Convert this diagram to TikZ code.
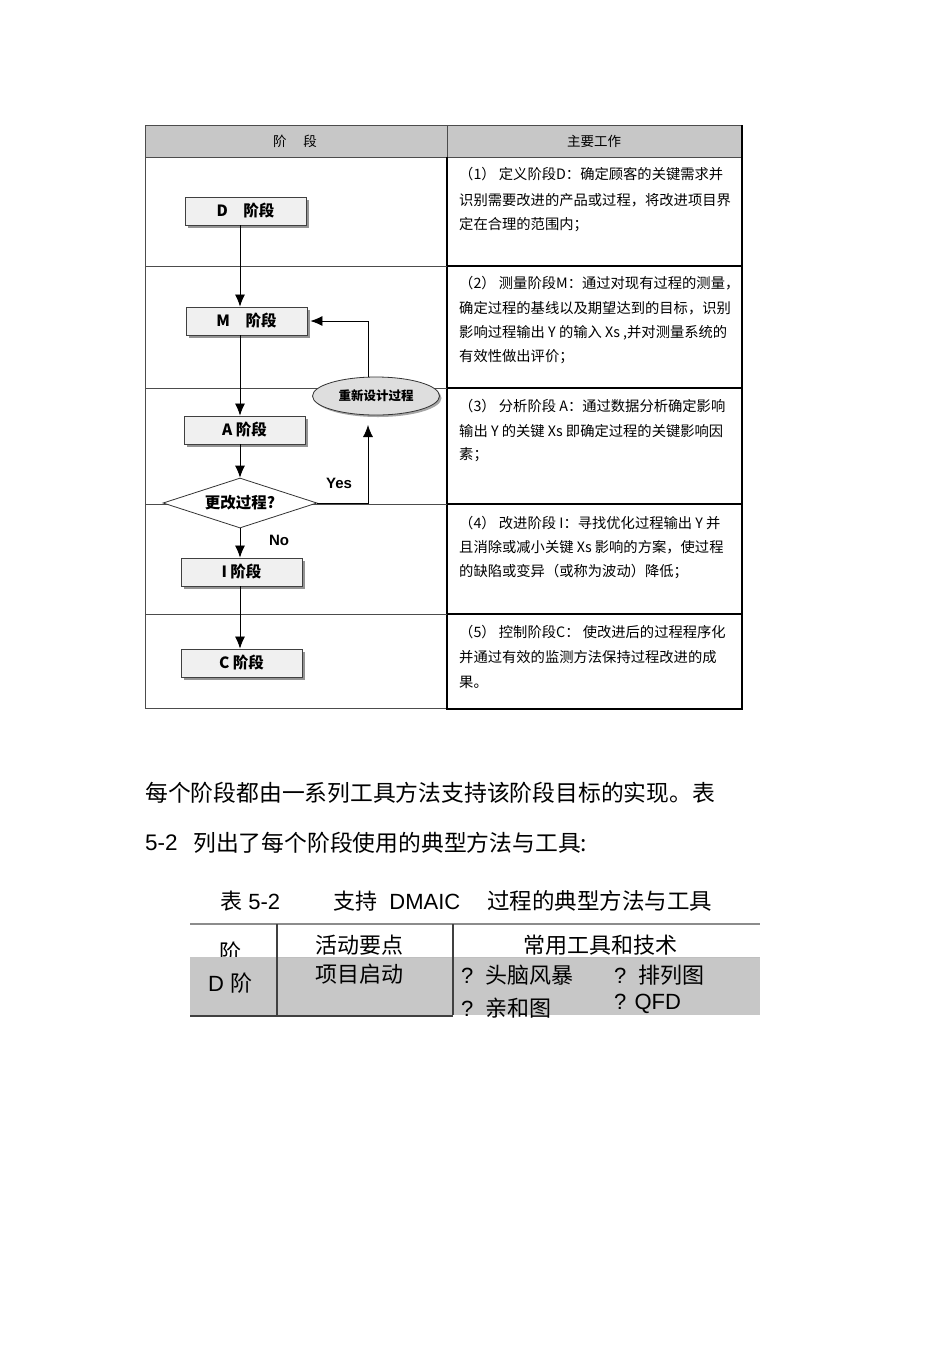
\documentclass[tikz,border=0pt]{standalone}
\usepackage{fontspec}
\setmainfont{Liberation Sans}
\newfontfamily\cjk{Noto Sans CJK SC}
\usetikzlibrary{shapes.geometric,shadows,arrows.meta}
\begin{document}
\begin{tikzpicture}[x=1pt,y=-1pt,
  stagebox/.style={draw=black!75, line width=0.9pt, fill=black!6, minimum width=121pt, minimum height=28pt, inner sep=0pt,
    font=\cjk\bfseries\fontsize{15.5}{15.5}\selectfont,
    drop shadow={shadow xshift=3pt, shadow yshift=-3pt, fill=black!42, opacity=1}},
  arr/.style={line width=0.8pt, -{Latex[length=12pt,width=10pt]}},
  rtext/.style={anchor=west, inner sep=0pt, font=\cjk\fontsize{14.3}{14.3}\selectfont},
  hdtext/.style={inner sep=0pt, font=\cjk\fontsize{13.5}{14}\selectfont},
  lbl/.style={inner sep=0pt, font=\bfseries\fontsize{15}{15}\selectfont},
  ptext/.style={anchor=west, inner sep=0pt, font=\cjk\fontsize{22.8}{23}\selectfont},
  btext/.style={inner sep=0pt, font=\cjk\fontsize{22}{22}\selectfont},
  leftline/.style={draw=black!70, line width=1pt},
  rightline/.style={draw=black, line width=1.6pt}
]
\useasboundingbox (0,0) rectangle (950,1345);
\fill[white] (0,0) rectangle (950,1345);

% ---------- top table ----------
\fill[black!22] (145,125) rectangle (742,157);
\draw[leftline] (145,125) -- (742,125);
\draw[leftline] (145,157) -- (742,157);
\draw[leftline] (145,125) -- (145,708) -- (447,708);
\draw[leftline] (447,125) -- (447,157);
\draw[rightline] (447,157) -- (447,709) -- (742,709) -- (742,125);
\foreach \yy in {266,388,504,614}{
  \draw[leftline] (145,\yy) -- (447,\yy);
  \draw[rightline] (447,\yy) -- (742,\yy);
}
\node[hdtext] (h1) at (295,141) {阶\hspace{17pt}段};
\node[hdtext] (h2) at (594,141) {主要工作};

% right column texts
\node[rtext] (t11) at (459,174) {（1）\ 定义阶段D：确定顾客的关键需求并};
\node[rtext] (t12) at (459,200) {识别需要改进的产品或过程，将改进项目界};
\node[rtext] (t13) at (459,225) {定在合理的范围内；};
\node[rtext] (t21) at (459,283) {（2）\ 测量阶段M：通过对现有过程的测量，};
\node[rtext] (t22) at (459,308) {确定过程的基线以及期望达到的目标，识别};
\node[rtext] (t23) at (459,333) {影响过程输出 Y 的输入 \textit{Xs} ,并对测量系统的};
\node[rtext] (t24) at (459,357) {有效性做出评价；};
\node[rtext] (t31) at (459,406) {（3）\ 分析阶段 A：通过数据分析确定影响};
\node[rtext] (t32) at (459,431) {输出 Y 的关键 \textit{Xs} 即确定过程的关键影响因};
\node[rtext] (t33) at (459,455) {素；};
\node[rtext] (t41) at (459,523) {（4）\ 改进阶段 I：寻找优化过程输出 Y 并};
\node[rtext] (t42) at (459,547) {且消除或减小关键 \textit{Xs} 影响的方案，使过程};
\node[rtext] (t43) at (459,572) {的缺陷或变异（或称为波动）降低；};
\node[rtext] (t51) at (459,632) {（5）\ 控制阶段C：\ 使改进后的过程程序化};
\node[rtext] (t52) at (459,657) {并通过有效的监测方法保持过程改进的成};
\node[rtext] (t53) at (459,682) {果。};

% ---------- flowchart ----------
\coordinate (X) at (240,0);
\node[stagebox] (D) at (245.5,211) {D\quad 阶段};
\node[stagebox] (M) at (246.5,321) {M\quad 阶段};
\node[stagebox] (A) at (244.5,430) {A\ 阶段};
\node[stagebox] (I) at (241.5,572) {I\ 阶段};
\node[stagebox] (C) at (241.5,663) {C\ 阶段};
\node[diamond, draw=black!80, line width=0.8pt, fill=white, aspect=3.08, minimum width=154pt, minimum height=50pt, inner sep=0pt,
  font=\cjk\bfseries\fontsize{15.5}{15.5}\selectfont] (Q) at (240,503) {更改过程?};
\node[ellipse, draw=black!80, line width=0.8pt, fill=black!13, minimum width=127pt, minimum height=38pt, inner sep=0pt,
  font=\cjk\bfseries\fontsize{12.5}{12.5}\selectfont,
  drop shadow={shadow xshift=2pt, shadow yshift=-2pt, fill=black!35, opacity=1}] (R) at (376,396) {重新设计过程};
\coordinate (Yup) at (368,425);

\draw[arr] (D.south -| X) -- (M.north -| X);
\draw[arr] (M.south -| X) -- (A.north -| X);
\draw[arr] (A.south -| X) -- (Q.north);
\draw[arr] (Q.south) -- (I.north -| X);
\draw[arr] (I.south -| X) -- (C.north -| X);
\draw[arr] (Q.east) -| (Yup);
\draw[arr, shorten >=3pt] (R.north -| Yup) |- (M.east);
\node[lbl] (yes) at (339,483) {Yes};
\node[lbl] (no) at (279,540) {No};

% ---------- paragraph ----------
\node[ptext] (p1) at (145,793) {每个阶段都由一系列工具方法支持该阶段目标的实现。表};
\node[anchor=west, inner sep=0pt, font=\fontsize{22.5}{23}\selectfont] (p2a) at (145,843) {5-2};
\node[ptext] (p2b) at (193,843) {列出了每个阶段使用的典型方法与工具:};

% ---------- caption ----------
\node[anchor=west, inner sep=0pt, font=\fontsize{22}{22}\selectfont] (c1) at (220,901) {{\cjk 表} 5-2};
\node[anchor=west, inner sep=0pt, font=\fontsize{22}{22}\selectfont] (c2) at (333,901) {{\cjk 支持}\ \ DMAIC};
\node[ptext, font=\cjk\fontsize{22.5}{22.5}\selectfont] (c3) at (487,901) {过程的典型方法与工具};

% ---------- bottom table ----------
\node[btext] (b0) at (230,952) {阶};
\node[btext] (b1) at (359,945) {活动要点};
\node[btext] (b2) at (600,945) {常用工具和技术};
\fill[black!22] (190,957) rectangle (760,1015);
\draw[draw=black!45, line width=2pt] (190,924) -- (760,924);
\draw[draw=black!25, line width=0.8pt] (277,957) -- (760,957);
\draw[draw=black!75, line width=1.2pt] (277,924) -- (277,1015);
\draw[draw=black!75, line width=1.2pt] (453,924) -- (453,1015);
\draw[draw=black!75, line width=1.2pt] (190,1016) -- (453,1016);
\node[btext, font=\fontsize{22}{22}\selectfont] (b3) at (230,983) {D {\cjk 阶}};
\node[btext] (b4) at (359,974) {项目启动};
\node[anchor=west, inner sep=0pt, font=\fontsize{22}{22}\selectfont] (b5) at (461,975) {?\ \ {\cjk 头脑风暴}};
\node[anchor=west, inner sep=0pt, font=\fontsize{22}{22}\selectfont] (b6) at (614,975) {?\ \ {\cjk 排列图}};
\node[anchor=west, inner sep=0pt, font=\fontsize{22}{22}\selectfont] (b7) at (461,1008) {?\ \ {\cjk 亲和图}};
\node[anchor=west, inner sep=0pt, font=\fontsize{22}{22}\selectfont] (b8) at (614,1004) {? QFD};
\end{tikzpicture}
\end{document}
